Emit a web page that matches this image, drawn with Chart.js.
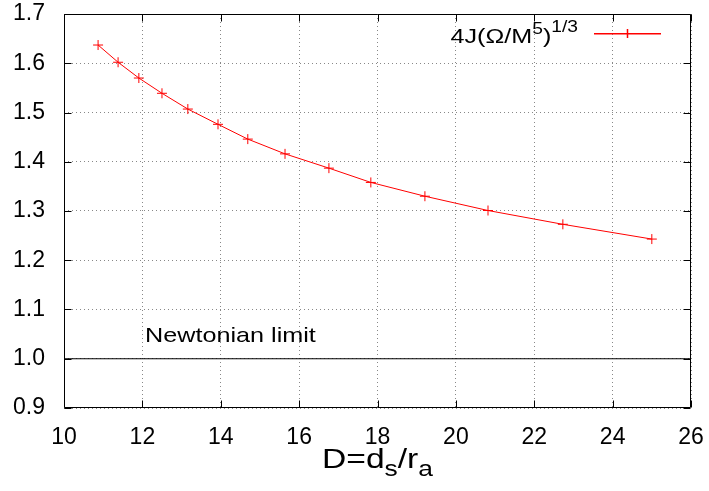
<!DOCTYPE html>
<html>
<head>
<meta charset="utf-8">
<script src="https://cdn.jsdelivr.net/npm/chart.js@4"></script>
<style>
  html, body { margin: 0; padding: 0; background: #fff; }
  #wrap { width: 709px; height: 491px; }
</style>
</head>
<body>
<div id="wrap"><canvas id="chart"></canvas></div>
<script>
// D = d_s / r_a
const dValues = [10.87, 11.38, 11.91, 12.5, 13.16, 13.93, 14.69, 15.64, 16.76, 17.83, 19.21, 20.82, 22.73, 25.0];
// 4J(Omega/M^5)^(1/3)
const jValues = [1.637, 1.602, 1.570, 1.539, 1.507, 1.476, 1.446, 1.416, 1.387, 1.358, 1.330, 1.301, 1.273, 1.243];
// Newtonian limit line
const newtonX = [10, 26];
const newtonY = [1.0, 1.0];

const xTicks = [10, 12, 14, 16, 18, 20, 22, 24, 26];
const yTicks = [0.9, 1.0, 1.1, 1.2, 1.3, 1.4, 1.5, 1.6, 1.7];

const FONT = '"Liberation Sans", Arial, Helvetica, sans-serif';
const RED = 'rgb(255, 0, 0)';
const STRETCH = 1.2; // the original text is a bit wider than it is tall

/**
 * gnuplot style frame with inward ticks on all four sides
 */
const framePlugin = {
  id: 'frame',
  afterDatasetsDraw(chart) {
    const { ctx, chartArea: a, scales } = chart;
    const l = Math.round(a.left) + 0.5;
    const r = Math.round(a.right) - 0.5;
    const t = Math.round(a.top) + 0.5;
    const b = Math.round(a.bottom) - 0.5;
    const tl = 7;

    ctx.save();
    ctx.strokeStyle = '#000';
    ctx.lineWidth = 1;
    ctx.setLineDash([]);
    ctx.beginPath();
    ctx.rect(l, t, r - l, b - t);

    xTicks.forEach(v => {
      const px = Math.round(scales.x.getPixelForValue(v)) + 0.5;
      ctx.moveTo(px, b); ctx.lineTo(px, b - tl);
      ctx.moveTo(px, t); ctx.lineTo(px, t + tl);
    });
    yTicks.forEach(v => {
      const py = Math.round(scales.y.getPixelForValue(v)) + 0.5;
      ctx.moveTo(l, py); ctx.lineTo(l + tl, py);
      ctx.moveTo(r, py); ctx.lineTo(r - tl, py);
    });
    ctx.stroke();
    ctx.restore();
  },
};

const richWidth = (ctx, parts) => parts.reduce((w, [text, size]) => {
  ctx.font = `${size}px ${FONT}`;
  return w + ctx.measureText(text).width;
}, 0) * STRETCH;

// draws a run of [text, size, dy] pieces, stretched sideways, starting at x
const drawRich = (ctx, parts, x, y) => {
  ctx.save();
  ctx.translate(x, y);
  ctx.scale(STRETCH, 1);
  let cx = 0;
  parts.forEach(([text, size, dy]) => {
    ctx.font = `${size}px ${FONT}`;
    ctx.fillText(text, cx, dy);
    cx += ctx.measureText(text).width;
  });
  ctx.restore();
};

/**
 * Legend, annotation and axis title with sub/superscripts
 */
const textPlugin = {
  id: 'texts',
  afterDraw(chart) {
    const { ctx, chartArea: a } = chart;

    // legend sample: line with a cross marker
    ctx.save();
    ctx.setLineDash([]);
    ctx.strokeStyle = RED;
    ctx.lineWidth = 1.5;
    ctx.beginPath();
    ctx.moveTo(594, 33.75);
    ctx.lineTo(661, 33.75);
    ctx.moveTo(627.5, 29);
    ctx.lineTo(627.5, 38);
    ctx.stroke();
    ctx.restore();

    ctx.save();
    ctx.fillStyle = '#000';
    ctx.textBaseline = 'alphabetic';
    ctx.textAlign = 'left';

    // legend
    const legendParts = [['4J(\u03A9/M', 21, 0], ['5', 16, -9], [')', 21, 0], ['1/3', 16, -11]];
    drawRich(ctx, legendParts, 578 - richWidth(ctx, legendParts), 43);

    // annotation
    drawRich(ctx, [['Newtonian limit', 21, 0]], 145, 342);

    // x axis title
    const titleParts = [['D=d', 28, 0], ['s', 22, 8], ['/r', 28, 0], ['a', 22, 8]];
    const tw = richWidth(ctx, titleParts);
    drawRich(ctx, titleParts, (a.left + a.right) / 2 - tw / 2, 468);

    ctx.restore();
  },
};

const ctx = document.getElementById('chart').getContext('2d');

new Chart(ctx, {
  type: 'scatter',
  data: {
    datasets: [
      {
        data: dValues.map((d, i) => ({ x: d, y: jValues[i] })),
        showLine: true,
        borderColor: RED,
        backgroundColor: RED,
        borderWidth: 1,
        tension: 0,
        pointStyle: 'cross',
        pointRadius: 5,
        pointBorderWidth: 1,
        pointBorderColor: RED,
      },
      {
        data: newtonX.map((d, i) => ({ x: d, y: newtonY[i] })),
        showLine: true,
        borderColor: '#000',
        borderWidth: 1,
        pointRadius: 0,
      },
    ],
  },
  options: {
    responsive: true,
    maintainAspectRatio: false,
    animation: false,
    layout: {
      padding: { left: 0, right: 18, top: 14, bottom: 0 },
    },
    scales: {
      x: {
        type: 'linear',
        min: 10,
        max: 26,
        afterFit: scale => {
          scale.height = 83;
          scale.paddingLeft = 0;
          scale.paddingRight = 0;
        },
        afterBuildTicks: scale => { scale.ticks = xTicks.map(v => ({ value: v })); },
        ticks: {
          color: '#000',
          padding: 16,
          maxRotation: 0,
          font: { family: FONT, size: 23 },
          callback: v => String(v),
        },
        grid: {
          color: '#888',
          lineWidth: 1,
          drawTicks: false,
        },
        border: { display: false, dash: [1, 3] },
      },
      y: {
        type: 'linear',
        min: 0.9,
        max: 1.7,
        afterFit: scale => {
          scale.width = 64;
          scale.paddingTop = 0;
          scale.paddingBottom = 0;
        },
        afterBuildTicks: scale => { scale.ticks = yTicks.map(v => ({ value: v })); },
        ticks: {
          color: '#000',
          padding: 19,
          font: { family: FONT, size: 23 },
          callback: v => Number(v).toFixed(1),
        },
        grid: {
          color: '#888',
          lineWidth: 1,
          drawTicks: false,
        },
        border: { display: false, dash: [1, 3] },
      },
    },
    plugins: {
      legend: { display: false },
      tooltip: { enabled: false },
    },
  },
  plugins: [framePlugin, textPlugin],
});
</script>
</body>
</html>
